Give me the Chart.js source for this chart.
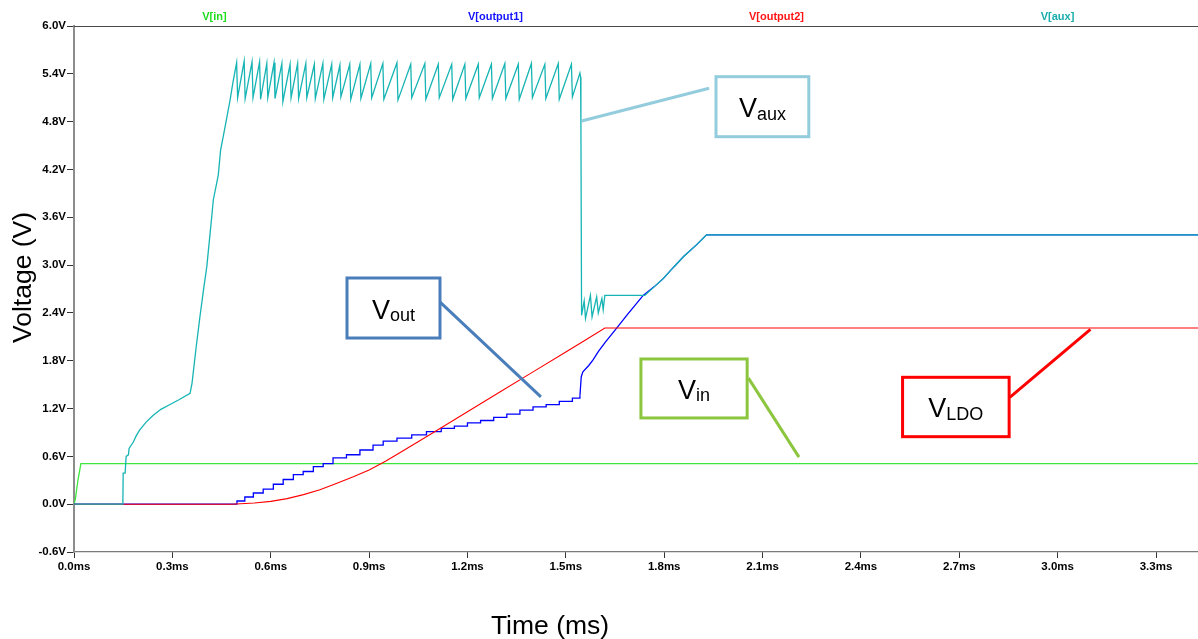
<!DOCTYPE html>
<html>
<head>
<meta charset="utf-8">
<title>Start-up waveforms</title>
<script src="https://cdn.jsdelivr.net/npm/chart.js@4/dist/chart.umd.min.js"></script>
<style>
  html, body { margin: 0; padding: 0; background: #ffffff; }
  #wrap { width: 1198px; height: 639px; position: relative; }
</style>
</head>
<body>
<div id="wrap"><canvas id="c"></canvas></div>
<script>
// Trace names printed across the top of the plot
const traceNames = ['V[in]', 'V[output1]', 'V[output2]', 'V[aux]'];

// Axis ticks
const timeTicks = [0, 0.3, 0.6, 0.9, 1.2, 1.5, 1.8, 2.1, 2.4, 2.7, 3.0, 3.3];
const voltTicks = [-0.6, 0, 0.6, 1.2, 1.8, 2.4, 3.0, 3.6, 4.2, 4.8, 5.4, 6.0];

// V[in]: [time (ms), volts]
const vIn = [[0, 0], [0.004, 0.06], [0.012, 0.30], [0.021, 0.51], [3.43, 0.51]];

// V[output2] (LDO output)
const vOutput2 = [
  [0, 0], [0.48, 0], [0.55, 0.015], [0.60, 0.035], [0.65, 0.07], [0.70, 0.12],
  [0.75, 0.18], [0.80, 0.26], [0.85, 0.34], [0.90, 0.43], [0.95, 0.54],
  [1.00, 0.66], [1.10, 0.91], [1.20, 1.16], [1.30, 1.41], [1.40, 1.66],
  [1.50, 1.91], [1.56, 2.06], [1.619, 2.21], [3.43, 2.21]
];

// V[output1]: staircase charge (jump time, new level)
const vOutput1Steps = [
  [0, 0], [0.482, 0], [0.497, 0.04], [0.521, 0.09], [0.547, 0.14], [0.577, 0.19],
  [0.608, 0.25], [0.638, 0.31], [0.669, 0.37], [0.699, 0.41], [0.730, 0.47],
  [0.760, 0.51], [0.790, 0.58], [0.831, 0.62], [0.872, 0.68], [0.912, 0.74],
  [0.943, 0.79], [0.985, 0.83], [1.030, 0.87], [1.075, 0.91], [1.120, 0.95],
  [1.160, 0.98], [1.200, 1.02], [1.240, 1.05], [1.280, 1.09], [1.320, 1.13],
  [1.360, 1.18], [1.400, 1.22], [1.440, 1.25], [1.480, 1.29], [1.520, 1.33],
  [1.543, 1.36]
];

// V[output1]: ramp to regulation
const vOutput1Ramp = [
  [1.543, 1.36], [1.547, 1.60], [1.552, 1.66], [1.570, 1.74], [1.583, 1.81],
  [1.600, 1.92], [1.620, 2.03], [1.655, 2.21], [1.690, 2.39], [1.736, 2.62],
  [1.770, 2.73], [1.797, 2.83], [1.830, 2.98], [1.860, 3.11], [1.900, 3.26],
  [1.929, 3.38], [3.43, 3.38]
];

// V[aux]
const vAux = [
  [0, 0], [0.149, 0], [0.150, 0.39], [0.156, 0.39], [0.159, 0.60], [0.166, 0.62],
  [0.168, 0.70], [0.181, 0.78], [0.190, 0.86], [0.200, 0.93], [0.220, 1.03],
  [0.240, 1.11], [0.265, 1.19], [0.290, 1.245], [0.320, 1.31], [0.354, 1.39],
  [0.360, 1.52], [0.372, 1.95], [0.384, 2.35], [0.395, 2.69], [0.405, 2.98],
  [0.418, 3.52], [0.425, 3.82], [0.440, 4.13], [0.447, 4.44], [0.460, 4.72],
  [0.476, 5.07], [0.485, 5.30],
  // switching ripple
  [0.496, 5.54], [0.499, 5.10], [0.519, 5.56], [0.522, 5.09], [0.543, 5.55], [0.546, 5.10],
  [0.566, 5.55], [0.569, 5.08], [0.588, 5.53], [0.591, 5.10], [0.610, 5.54], [0.613, 5.09],
  [0.634, 5.53], [0.637, 5.05], [0.659, 5.52], [0.662, 5.10], [0.682, 5.53], [0.685, 5.09],
  [0.707, 5.53], [0.710, 5.10], [0.733, 5.52], [0.736, 5.09], [0.759, 5.53], [0.762, 5.08],
  [0.786, 5.52], [0.789, 5.10], [0.811, 5.51], [0.814, 5.11], [0.841, 5.52], [0.844, 5.08],
  [0.872, 5.52], [0.875, 5.09], [0.905, 5.53], [0.908, 5.10], [0.942, 5.53], [0.945, 5.08],
  [0.985, 5.54], [0.988, 5.07], [1.027, 5.52], [1.030, 5.10], [1.070, 5.53], [1.073, 5.08],
  [1.111, 5.52], [1.114, 5.10], [1.152, 5.52], [1.155, 5.08], [1.192, 5.52], [1.195, 5.09],
  [1.233, 5.52], [1.236, 5.10], [1.273, 5.52], [1.276, 5.09], [1.314, 5.53], [1.317, 5.09],
  [1.355, 5.52], [1.358, 5.08], [1.395, 5.53], [1.398, 5.10], [1.436, 5.52], [1.439, 5.09],
  [1.477, 5.53], [1.480, 5.08], [1.517, 5.52], [1.520, 5.11], [1.543, 5.41],
  // collapse and settling
  [1.545, 5.36], [1.546, 4.75], [1.548, 2.37], [1.556, 2.55], [1.560, 2.33],
  [1.575, 2.62], [1.580, 2.35], [1.594, 2.60], [1.599, 2.40], [1.610, 2.58],
  [1.614, 2.44], [1.619, 2.62], [1.741, 2.62], [1.770, 2.73], [1.797, 2.83],
  [1.830, 2.98], [1.860, 3.11], [1.900, 3.26], [1.929, 3.38], [3.43, 3.38]
];

const traceColors = {
  vin: '#3de63d', out1: '#0000ff', out2: '#ff0000', aux: '#17b4b4'
};
const headerColors = ['#1edc1e', '#1414ff', '#ff1414', '#1aacac'];

// Callout boxes: box = [t0, t1, vTop, vBottom], leader from/to in (ms, V)
const callouts = [
  { main: 'V', sub: 'aux', color: '#93cddd', box: [1.958, 2.241, 5.364, 4.611], leader: [[1.548, 4.808], [1.937, 5.218]] },
  { main: 'V', sub: 'out', color: '#4a7ebb', box: [0.8326, 1.1162, 2.838, 2.085], leader: [[1.110, 2.56], [1.424, 1.346]] },
  { main: 'V', sub: 'in',  color: '#8cc63f', box: [1.729, 2.053, 1.822, 1.082], leader: [[2.057, 1.582], [2.211, 0.591]] },
  { main: 'V', sub: 'LDO', color: '#ff0000', box: [2.527, 2.852, 1.592, 0.847], leader: [[2.854, 1.341], [3.100, 2.194]] }
];

const toXY = arr => arr.map(p => ({ x: p[0], y: p[1] }));

const FONT = '"Liberation Sans", Arial, sans-serif';

const framePlugin = {
  id: 'frame',
  afterDraw(chart) {
    const { ctx, chartArea } = chart;
    ctx.save();
    // top frame line
    ctx.strokeStyle = '#4a4a4a';
    ctx.lineWidth = 1.2;
    ctx.beginPath();
    ctx.moveTo(chartArea.left, chartArea.top + 0.5);
    ctx.lineTo(chartArea.right, chartArea.top + 0.5);
    ctx.stroke();
    // trace names across the top
    const w = (chartArea.right - chartArea.left) / traceNames.length;
    ctx.font = 'bold 11px ' + FONT;
    ctx.textAlign = 'center';
    ctx.textBaseline = 'middle';
    traceNames.forEach((name, i) => {
      ctx.fillStyle = headerColors[i];
      ctx.fillText(name, chartArea.left + w * (i + 0.5), 17);
    });
    // axis titles
    ctx.fillStyle = '#000';
    ctx.font = '26.5px ' + FONT;
    ctx.textAlign = 'center';
    ctx.textBaseline = 'alphabetic';
    ctx.fillText('Time (ms)', 550, 634);
    ctx.save();
    ctx.translate(31, 277.5);
    ctx.rotate(-Math.PI / 2);
    ctx.fillText('Voltage (V)', 0, 0);
    ctx.restore();
    ctx.restore();
  }
};

const calloutPlugin = {
  id: 'callouts',
  afterDatasetsDraw(chart) {
    const { ctx } = chart;
    const xs = chart.scales.x, ys = chart.scales.y;
    ctx.save();
    for (const c of callouts) {
      ctx.strokeStyle = c.color;
      ctx.lineWidth = 3;
      ctx.lineCap = 'butt';
      ctx.beginPath();
      ctx.moveTo(xs.getPixelForValue(c.leader[0][0]), ys.getPixelForValue(c.leader[0][1]));
      ctx.lineTo(xs.getPixelForValue(c.leader[1][0]), ys.getPixelForValue(c.leader[1][1]));
      ctx.stroke();
      const l = xs.getPixelForValue(c.box[0]), r = xs.getPixelForValue(c.box[1]);
      const t = ys.getPixelForValue(c.box[2]), b = ys.getPixelForValue(c.box[3]);
      ctx.fillStyle = '#ffffff';
      ctx.fillRect(l, t, r - l, b - t);
      ctx.strokeRect(l, t, r - l, b - t);
      ctx.fillStyle = '#000';
      ctx.textAlign = 'left';
      ctx.textBaseline = 'alphabetic';
      ctx.font = '27px ' + FONT;
      const wMain = ctx.measureText(c.main).width;
      ctx.font = '18px ' + FONT;
      const wSub = ctx.measureText(c.sub).width;
      const x0 = (l + r) / 2 - (wMain + wSub) / 2;
      const base = (t + b) / 2 + 10.5;
      ctx.font = '27px ' + FONT;
      ctx.fillText(c.main, x0, base);
      ctx.font = '18px ' + FONT;
      ctx.fillText(c.sub, x0 + wMain, base + 2.5);
    }
    ctx.restore();
  }
};

const lineStyle = (color, width) => ({
  borderColor: color, backgroundColor: color, borderWidth: width,
  pointRadius: 0, pointHoverRadius: 0, fill: false, tension: 0
});

new Chart(document.getElementById('c'), {
  type: 'line',
  data: {
    datasets: [
      Object.assign({ label: traceNames[0], data: toXY(vIn), order: 4 }, lineStyle(traceColors.vin, 1.3)),
      Object.assign({ label: traceNames[1], data: toXY(vOutput1Steps), order: 3, stepped: 'before' }, lineStyle(traceColors.out1, 1.3)),
      Object.assign({ label: traceNames[1], data: toXY(vOutput1Ramp), order: 3 }, lineStyle(traceColors.out1, 1.3)),
      Object.assign({ label: traceNames[2], data: toXY(vOutput2), order: 2 }, lineStyle(traceColors.out2, 1.1)),
      Object.assign({ label: traceNames[3], data: toXY(vAux), order: 1 }, lineStyle(traceColors.aux, 1.3))
    ]
  },
  options: {
    responsive: true,
    maintainAspectRatio: false,
    animation: false,
    events: [],
    layout: { padding: { top: 26, right: 0, bottom: 0, left: 0 } },
    plugins: { legend: { display: false }, tooltip: { enabled: false }, title: { display: false } },
    scales: {
      x: {
        type: 'linear',
        min: 0,
        max: 3.428,
        afterFit(scale) { scale.height = 87; },
        afterBuildTicks(scale) { scale.ticks = timeTicks.map(v => ({ value: v })); },
        ticks: {
          autoSkip: false,
          maxRotation: 0,
          padding: 2,
          color: '#000',
          font: { family: FONT, size: 11.5, weight: 'bold' },
          callback: v => v.toFixed(1) + 'ms'
        },
        grid: { drawOnChartArea: false, drawTicks: true, tickLength: 6, tickColor: '#333', tickWidth: 1 },
        border: { display: true, color: '#7a7a7a', width: 1.2 }
      },
      y: {
        type: 'linear',
        min: -0.6,
        max: 6.0,
        afterFit(scale) { scale.width = 74; },
        afterBuildTicks(scale) { scale.ticks = voltTicks.map(v => ({ value: v })); },
        ticks: {
          autoSkip: false,
          padding: 1,
          color: '#000',
          font: { family: FONT, size: 11.5, weight: 'bold' },
          callback: v => v.toFixed(1) + 'V'
        },
        grid: { drawOnChartArea: false, drawTicks: true, tickLength: 7, tickColor: '#333', tickWidth: 1 },
        border: { display: true, color: '#8c8c8c', width: 2 }
      }
    }
  },
  plugins: [framePlugin, calloutPlugin]
});
</script>
</body>
</html>
